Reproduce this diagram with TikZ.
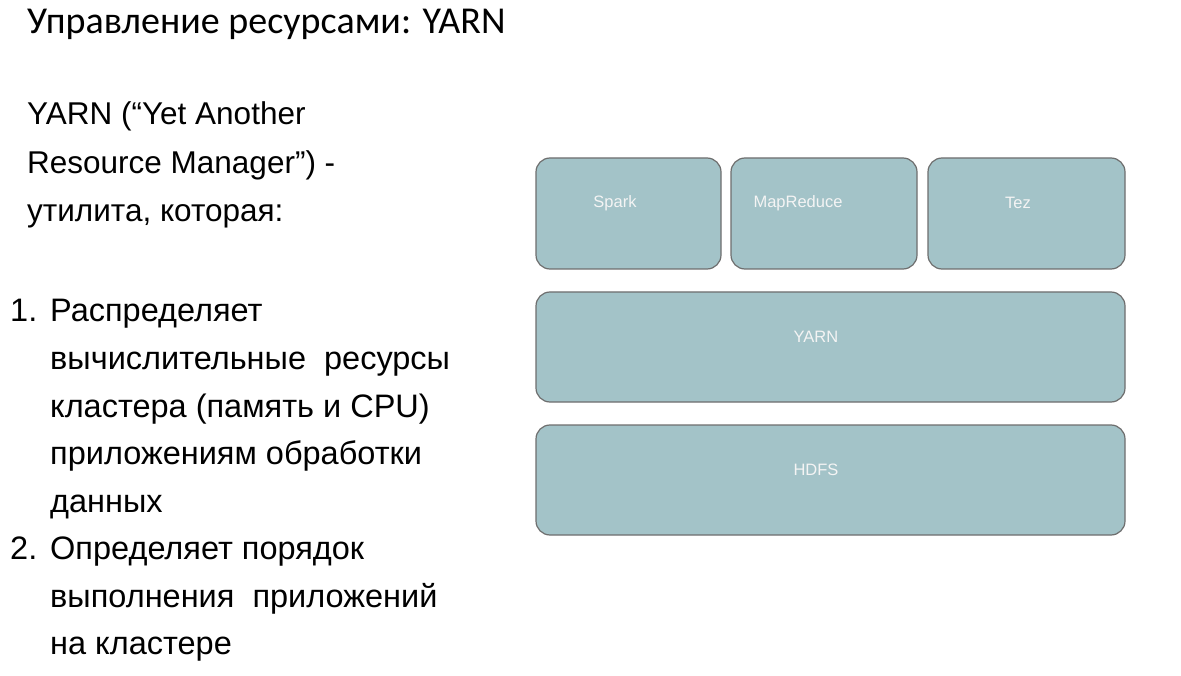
\documentclass[tikz,border=0pt]{standalone}
\usepackage{fontspec}
\setmainfont{Liberation Sans}
\newfontfamily\titlefont{Carlito}
\definecolor{boxfill}{HTML}{A3C3C8}
\definecolor{boxline}{HTML}{6E6E6E}
\definecolor{boxtext}{HTML}{F4F4F4}
\begin{document}
\begin{tikzpicture}[x=1pt,y=-1pt,
  layer/.style={draw=boxline, line width=1.2pt, fill=boxfill, rounded corners=14pt},
  lbl/.style={text=boxtext, font=\fontsize{16.5}{19}\selectfont, inner sep=0pt},
  intro/.style={anchor=base west, inner sep=0pt, font=\fontsize{31.5}{36}\selectfont},
  body/.style={anchor=base west, inner sep=0pt, font=\fontsize{32.5}{38}\selectfont},
  ttl/.style={anchor=base west, inner sep=0pt, font=\titlefont\fontsize{38}{44}\selectfont}]
\useasboundingbox (0,0) rectangle (1181,676);
\fill[white] (0,0) rectangle (1181,676);
% title
\node[ttl] (title) at (27,34) {Управление ресурсами: YARN};
% intro
\node[intro] (i1) at (27,125) {YARN (“Yet Another};
\node[intro] (i2) at (27,174) {Resource Manager”) -};
\node[intro] (i3) at (27,222) {утилита, которая:};
% list
\node[body] (n1) at (10,322) {1.};
\node[body] (l1) at (50,322) {Распределяет};
\node[body] (l2) at (50,369.5) {вычислительные\ \ ресурсы};
\node[body] (l3) at (50,417) {кластера (память и CPU)};
\node[body] (l4) at (50,464.5) {приложениям обработки};
\node[body] (l5) at (50,512) {данных};
\node[body] (n2) at (10,559.5) {2.};
\node[body] (l6) at (50,559.5) {Определяет порядок};
\node[body] (l7) at (50,607) {выполнения\ \ приложений};
\node[body] (l8) at (50,654.5) {на кластере};
% layers
\draw[layer] (536,158) rectangle (721,269);
\draw[layer] (731,158) rectangle (917,269);
\draw[layer] (928,158) rectangle (1125,269);
\draw[layer] (536,292) rectangle (1125,402);
\draw[layer] (536,425) rectangle (1125,535);
\node[lbl] (spark) at (615,203) {Spark};
\node[lbl] (mr) at (798,203) {MapReduce};
\node[lbl] (tez) at (1018,203) {Tez};
\node[lbl] (yarn) at (816,337) {YARN};
\node[lbl] (hdfs) at (816,470) {HDFS};
\end{tikzpicture}
\end{document}
